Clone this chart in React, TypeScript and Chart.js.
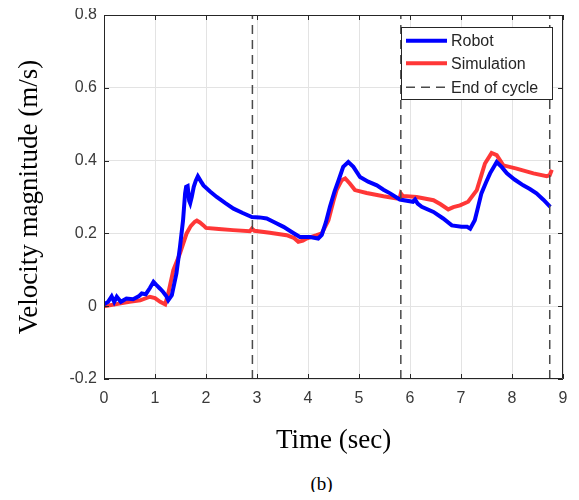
import React, { useEffect, useRef } from "react";
import { Chart, registerables } from "chart.js";

Chart.register(...registerables);

const robotX = [0, 0.08, 0.15, 0.2, 0.25, 0.33, 0.44, 0.57, 0.68, 0.74, 0.82, 0.9, 0.97, 1.03, 1.1, 1.16, 1.22, 1.26, 1.33, 1.42, 1.49, 1.55, 1.59, 1.61, 1.64, 1.67, 1.69, 1.72, 1.76, 1.8, 1.84, 1.9, 1.95, 2.08, 2.21, 2.38, 2.54, 2.72, 2.9, 3.05, 3.19, 3.35, 3.52, 3.68, 3.84, 4.04, 4.2, 4.27, 4.35, 4.43, 4.52, 4.6, 4.69, 4.79, 4.89, 5.02, 5.18, 5.35, 5.48, 5.61, 5.8, 6.06, 6.1, 6.15, 6.23, 6.46, 6.65, 6.82, 7.01, 7.12, 7.18, 7.27, 7.33, 7.4, 7.49, 7.57, 7.7, 7.8, 7.9, 8.05, 8.22, 8.35, 8.48, 8.62, 8.75];
const robotY = [0.005, 0.012, 0.027, 0.012, 0.026, 0.012, 0.021, 0.019, 0.027, 0.035, 0.033, 0.05, 0.067, 0.058, 0.048, 0.039, 0.028, 0.016, 0.03, 0.09, 0.163, 0.236, 0.31, 0.328, 0.33, 0.29, 0.283, 0.3, 0.328, 0.345, 0.357, 0.343, 0.332, 0.315, 0.3, 0.283, 0.268, 0.256, 0.245, 0.244, 0.241, 0.23, 0.218, 0.204, 0.19, 0.19, 0.186, 0.196, 0.23, 0.273, 0.315, 0.346, 0.383, 0.396, 0.383, 0.355, 0.342, 0.332, 0.32, 0.31, 0.293, 0.287, 0.293, 0.282, 0.273, 0.259, 0.241, 0.222, 0.218, 0.218, 0.213, 0.236, 0.27, 0.31, 0.34, 0.365, 0.396, 0.382, 0.365, 0.348, 0.332, 0.322, 0.31, 0.292, 0.273];

const simX = [0, 0.3, 0.5, 0.71, 0.9, 1.0, 1.1, 1.2, 1.26, 1.36, 1.49, 1.62, 1.7, 1.78, 1.82, 1.88, 1.95, 2.0, 2.25, 2.53, 2.86, 2.9, 2.95, 3.25, 3.58, 3.72, 3.81, 3.9, 3.97, 4.17, 4.27, 4.4, 4.5, 4.56, 4.66, 4.73, 4.82, 4.92, 5.15, 5.48, 5.74, 5.8, 5.82, 5.86, 6.13, 6.46, 6.6, 6.75, 6.85, 6.98, 7.14, 7.31, 7.4, 7.47, 7.6, 7.7, 7.83, 8.09, 8.42, 8.68, 8.74, 8.78];
const simY = [0, 0.007, 0.012, 0.016, 0.026, 0.022, 0.012, 0.005, 0.035, 0.099, 0.145, 0.2, 0.22, 0.232, 0.235, 0.23, 0.222, 0.215, 0.212, 0.209, 0.206, 0.213, 0.207, 0.202, 0.195, 0.188, 0.177, 0.18, 0.186, 0.195, 0.2, 0.236, 0.29, 0.319, 0.346, 0.351, 0.337, 0.319, 0.311, 0.302, 0.296, 0.298, 0.31, 0.303, 0.3, 0.291, 0.28, 0.266, 0.272, 0.277, 0.287, 0.319, 0.36, 0.392, 0.421, 0.415, 0.387, 0.378, 0.365, 0.357, 0.36, 0.375];

const cycleEnds = [2.91, 5.82, 8.74];
const xTicks = [0, 1, 2, 3, 4, 5, 6, 7, 8, 9];
const yTicks = [-0.2, 0, 0.2, 0.4, 0.6, 0.8];
const legendLabels = ["Robot", "Simulation", "End of cycle"];

const AXIS_COLOR = "#262626";
const DASH_COLOR = "#4a4a4a";
const SANS = "Arial, 'Liberation Sans', Helvetica, sans-serif";
const SERIF = "'Times New Roman', 'Liberation Serif', serif";

const framePlugin = {
  id: "matlabFrame",
  afterDraw(chart: any) {
    const { ctx, chartArea } = chart;
    const { left, right, top, bottom } = chartArea;
    const xs = chart.scales.x;
    const ys = chart.scales.y;
    ctx.save();
    ctx.strokeStyle = AXIS_COLOR;
    ctx.lineWidth = 1;
    ctx.beginPath();
    ctx.rect(left + 0.5, top + 0.5, right - left - 1, bottom - top - 1);
    ctx.stroke();
    const tl = 5;
    ctx.beginPath();
    xTicks.forEach((v) => {
      const px = Math.round(xs.getPixelForValue(v)) + 0.5;
      ctx.moveTo(px, bottom);
      ctx.lineTo(px, bottom - tl);
      ctx.moveTo(px, top);
      ctx.lineTo(px, top + tl);
    });
    yTicks.forEach((v) => {
      const py = Math.round(ys.getPixelForValue(v)) + 0.5;
      ctx.moveTo(left, py);
      ctx.lineTo(left + tl, py);
      ctx.moveTo(right, py);
      ctx.lineTo(right - tl, py);
    });
    ctx.stroke();

    // legend
    const bw = 151;
    const bh = 72;
    const bx = right - 11 - bw;
    const by = top + 12;
    ctx.fillStyle = "#ffffff";
    ctx.fillRect(bx, by, bw, bh);
    ctx.strokeStyle = AXIS_COLOR;
    ctx.lineWidth = 1;
    ctx.strokeRect(bx + 0.5, by + 0.5, bw, bh);
    const rows = [13.7, 36.3, 60.3];
    const styles = [
      { color: "#0000ff", width: 4, dash: [] as number[] },
      { color: "rgba(255,20,20,0.85)", width: 4, dash: [] as number[] },
      { color: DASH_COLOR, width: 1.5, dash: [9, 6] },
    ];
    rows.forEach((ry, i) => {
      const s = styles[i];
      ctx.beginPath();
      ctx.strokeStyle = s.color;
      ctx.lineWidth = s.width;
      ctx.setLineDash(s.dash);
      ctx.moveTo(bx + 5, by + ry);
      ctx.lineTo(bx + 46, by + ry);
      ctx.stroke();
      ctx.setLineDash([]);
      ctx.fillStyle = AXIS_COLOR;
      ctx.font = "16px " + SANS;
      ctx.textBaseline = "middle";
      ctx.textAlign = "left";
      ctx.fillText(legendLabels[i], bx + 50, by + ry + 1);
    });
    ctx.restore();
  },
};

export default function App() {
  const canvasRef = useRef<HTMLCanvasElement | null>(null);

  useEffect(() => {
    if (!canvasRef.current) return;
    const robot = robotX.map((x, i) => ({ x, y: robotY[i] }));
    const sim = simX.map((x, i) => ({ x, y: simY[i] }));
    const dashSets = cycleEnds.map((c) => ({
      label: "End of cycle",
      data: [
        { x: c, y: -0.2 },
        { x: c, y: 0.8 },
      ],
      showLine: true,
      borderColor: DASH_COLOR,
      borderWidth: 1.5,
      borderDash: [9, 6],
      pointRadius: 0,
      fill: false,
    }));
    const chart = new Chart(canvasRef.current, {
      type: "scatter",
      data: {
        datasets: [
          ...dashSets,
          {
            label: "Robot",
            data: robot,
            showLine: true,
            borderColor: "#0000ff",
            borderWidth: 4,
            pointRadius: 0,
            tension: 0,
            fill: false,
          },
          {
            label: "Simulation",
            data: sim,
            showLine: true,
            borderColor: "rgba(255,20,20,0.85)",
            borderWidth: 4,
            pointRadius: 0,
            tension: 0,
            fill: false,
          },
        ] as any,
      },
      options: {
        animation: false,
        responsive: true,
        maintainAspectRatio: false,
        layout: { padding: { top: 7, right: 8, left: 0, bottom: 0 } },
        plugins: {
          legend: { display: false },
          tooltip: { enabled: false },
        },
        scales: {
          x: {
            type: "linear",
            min: 0,
            max: 9,
            afterBuildTicks: (scale: any) => {
              scale.ticks = xTicks.map((v) => ({ value: v }));
            },
            afterFit: (scale: any) => {
              scale.height = 79;
              scale.paddingLeft = 0;
              scale.paddingRight = 0;
            },
            ticks: {
              padding: 10,
              color: "#3a3a3a",
              font: { family: SANS, size: 16 },
              maxRotation: 0,
              callback: (v: any) => String(v),
            },
            grid: { color: "#e3e3e3", lineWidth: 1, drawTicks: false },
            border: { display: false },
            title: {
              display: true,
              text: "Time (sec)",
              color: "#000000",
              font: { family: SERIF, size: 27 },
              padding: { top: 0, bottom: 1 },
            },
          },
          y: {
            type: "linear",
            min: -0.2,
            max: 0.8,
            afterBuildTicks: (scale: any) => {
              scale.ticks = yTicks.map((v) => ({ value: v }));
            },
            afterFit: (scale: any) => {
              scale.width = 96;
              scale.paddingTop = 0;
              scale.paddingBottom = 0;
            },
            ticks: {
              padding: 7,
              color: "#3a3a3a",
              font: { family: SANS, size: 16 },
              callback: (v: any) => String(Math.round(Number(v) * 10) / 10),
            },
            grid: { color: "#e3e3e3", lineWidth: 1, drawTicks: false },
            border: { display: false },
            title: {
              display: true,
              text: "Velocity magnitude (m/s)",
              color: "#000000",
              font: { family: SERIF, size: 27 },
              padding: { top: 6, bottom: 0 },
            },
          },
        },
      } as any,
      plugins: [framePlugin],
    });
    return () => chart.destroy();
  }, []);

  return (
    <div style={{ position: "relative", width: "100%", height: 484, background: "#fff" }}>
      <div style={{ position: "relative", width: "100%", height: 450 }}>
        <canvas ref={canvasRef} />
      </div>
      <div
        style={{
          position: "absolute",
          left: 0,
          right: 0,
          top: 466,
          height: 20,
          lineHeight: "20px",
          textAlign: "center",
          paddingLeft: 64,
          fontFamily: SERIF,
          fontSize: 19,
          color: "#000",
        }}
      >
        (b)
      </div>
    </div>
  );
}
